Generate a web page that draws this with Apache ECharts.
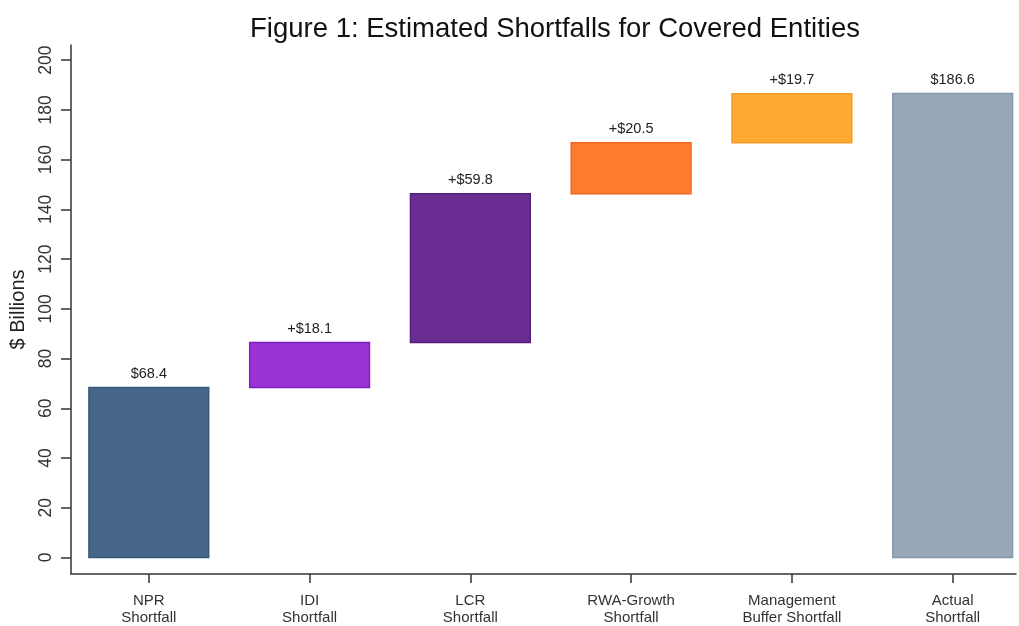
<!doctype html>
<html>
<head>
	<meta charset="UTF-8">
	<title>Figure 1</title>
	<script src="https://cdn.jsdelivr.net/npm/echarts@6/dist/echarts.min.js"></script>
	<style>
		html, body { margin: 0; padding: 0; background: #fff; overflow: hidden; }
		#chart { width: 1019px; height: 626px; }
	</style>
</head>
<body>
	<div id="chart"></div>
	<script>
		// data
		var categories = ['NPR\nShortfall', 'IDI\nShortfall', 'LCR\nShortfall', 'RWA-Growth\nShortfall', 'Management\nBuffer Shortfall', 'Actual\nShortfall'];
		var barValues = [68.4, 18.1, 59.8, 20.5, 19.7, 186.6];
		var isTotal = [true, false, false, false, false, true];
		var barColors = ['#466789', '#9a32d4', '#6a2e92', '#ff7b30', '#ffab33', '#97a8bb'];
		var borderColors = ['#3a5877', '#7e22bf', '#561f7b', '#f06a20', '#f59c25', '#8898ab'];
		var yTicks = [0, 20, 40, 60, 80, 100, 120, 140, 160, 180, 200];
		var xTicks = [0, 1, 2, 3, 4, 5];

		// waterfall rows: [index, bottom, top]
		var wfData = [];
		var running = 0;
		for (var i = 0; i < barValues.length; i++) {
			var base = isTotal[i] ? 0 : running;
			wfData.push([i, base, base + barValues[i]]);
			running = base + barValues[i];
		}

		var labelFont = 'Liberation Sans';

		var chart = echarts.init(document.getElementById('chart'));
		var option = {
			animation: false,
			title: {
				text: 'Figure 1: Estimated Shortfalls for Covered Entities',
				left: 550,
				textAlign: 'center',
				top: 10,
				textStyle: { fontFamily: labelFont, fontSize: 27.5, fontWeight: 'normal', color: '#111' }
			},
			grid: { left: 70, right: 3, top: 45, bottom: 46 },
			xAxis: {
				type: 'value',
				min: -0.484,
				max: 5.394,
				splitLine: { show: false },
				axisLine: { show: true, onZero: false, lineStyle: { color: '#333', width: 1.5 } },
				axisTick: { show: true, length: 9, customValues: xTicks, lineStyle: { color: '#333', width: 1.5 } },
				axisLabel: {
					customValues: xTicks,
					formatter: function (v) { return categories[Math.round(v)]; },
					margin: 18,
					fontFamily: labelFont,
					fontSize: 15,
					lineHeight: 17,
					color: '#333'
				}
			},
			yAxis: {
				type: 'value',
				min: -6.64,
				max: 206.1,
				name: '$ Billions',
				nameLocation: 'middle',
				nameGap: 43,
				nameTextStyle: { fontFamily: labelFont, fontSize: 20, color: '#222' },
				splitLine: { show: false },
				axisLine: { show: true, onZero: false, lineStyle: { color: '#333', width: 1.5 } },
				axisTick: { show: true, length: 10, customValues: yTicks, lineStyle: { color: '#333', width: 1.5 } },
				axisLabel: {
					customValues: yTicks,
					rotate: 90,
					margin: 16,
					fontFamily: labelFont,
					fontSize: 17.5,
					color: '#333'
				}
			},
			series: [
				{
					type: 'custom',
					data: wfData,
					encode: { x: 0, y: [1, 2] },
					renderItem: function (params, api) {
						var idx = api.value(0);
						var lo = api.coord([idx, api.value(1)]);
						var hi = api.coord([idx, api.value(2)]);
						var w = api.size([0.745, 0])[0];
						var k = params.dataIndex;
						var v = barValues[k].toFixed(1);
						return {
							type: 'rect',
							shape: { x: lo[0] - w / 2, y: hi[1], width: w, height: lo[1] - hi[1] },
							style: { fill: barColors[k], stroke: borderColors[k], lineWidth: 1.5 },
							textContent: {
								style: {
									text: isTotal[k] ? '$' + v : '+$' + v,
									fontFamily: labelFont,
									fontSize: 14.5,
									fill: '#222'
								}
							},
							textConfig: { position: 'top', distance: 5 }
						};
					}
				}
			]
		};
		chart.setOption(option);
	</script>
</body>
</html>
